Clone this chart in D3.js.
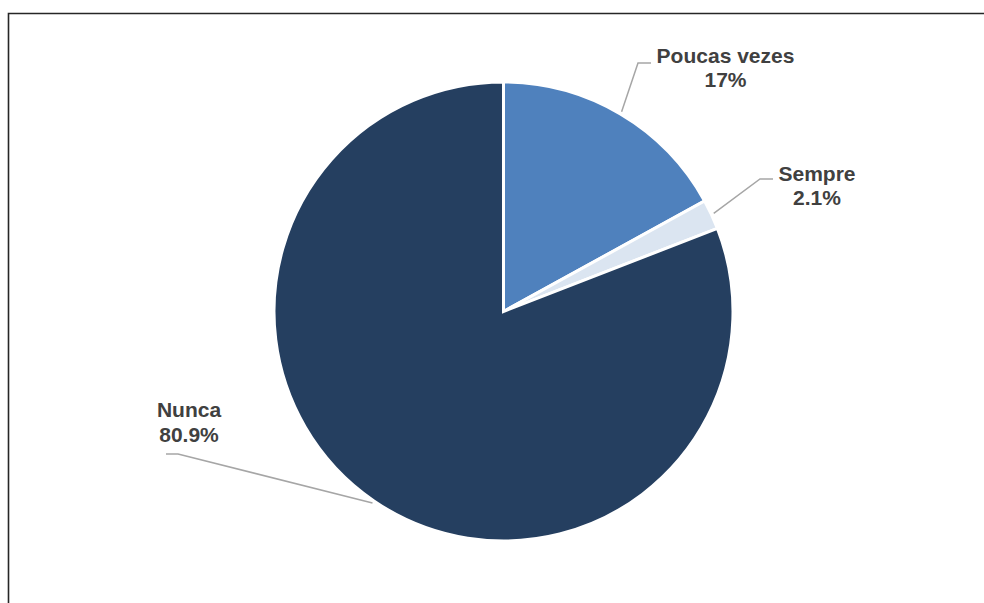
<!DOCTYPE html>
<html>
<head>
<meta charset="utf-8">
<script src="https://cdn.jsdelivr.net/npm/d3@7/dist/d3.min.js"></script>
<style>
  html, body { margin: 0; padding: 0; background: #fff; }
  svg { display: block; }
</style>
</head>
<body>
<svg id="chart" width="984" height="603"></svg>
<script>
// ---- data ----
const categories = ["Poucas vezes", "Sempre", "Nunca"];
const values = [17, 2.1, 80.9];
const valueLabels = ["17%", "2.1%", "80.9%"];
const colors = ["#4f81bd", "#dbe5f1", "#253f60"];

// ---- layout (label anchor positions, not data) ----
const labelLayout = [
  { x: 725.5, y: 62.5, elbowX: 651, side: "right" },
  { x: 817, y: 180.5, elbowX: 773, side: "right" },
  { x: 189, y: 417, elbowX: 166, side: "left" }
];

const svg = d3.select("#chart");
const W = 984, H = 603;

// frame
svg.append("path")
  .attr("d", `M8.5,${H + 5} L8.5,13.5 L${W + 5},13.5`)
  .attr("fill", "none")
  .attr("stroke", "#262626")
  .attr("stroke-width", 1.6);

const cx = 503.5, cy = 311.5, R = 229.5;
const g = svg.append("g").attr("transform", `translate(${cx},${cy})`);

const pie = d3.pie().sort(null).value(d => d)(values);
const arc = d3.arc().innerRadius(0).outerRadius(R);

g.selectAll("path.slice")
  .data(pie)
  .join("path")
  .attr("class", "slice")
  .attr("d", arc)
  .attr("fill", (d, i) => colors[i])
  .attr("stroke", "#fff")
  .attr("stroke-width", 3)
  .attr("stroke-linejoin", "miter");

// leader lines
const lineY = [63, 179, 454];
pie.forEach((d, i) => {
  const mid = (d.startAngle + d.endAngle) / 2;
  const r2 = R + 2.5;
  const px = cx + r2 * Math.sin(mid);
  const py = cy - r2 * Math.cos(mid);
  const L = labelLayout[i];
  const ly = lineY[i];
  const bendX = L.side === "right" ? L.elbowX - 13 : L.elbowX + 12;
  svg.append("polyline")
    .attr("points", `${px},${py} ${bendX},${ly} ${L.elbowX},${ly}`)
    .attr("fill", "none")
    .attr("stroke", "#a6a6a6")
    .attr("stroke-width", 1.5);
});

// labels
labelLayout.forEach((L, i) => {
  const t = svg.append("text")
    .attr("x", L.x)
    .attr("y", L.y)
    .attr("text-anchor", "middle")
    .attr("font-family", "Liberation Sans, Arial, sans-serif")
    .attr("font-weight", "bold")
    .attr("font-size", 21)
    .attr("fill", "#404040");
  t.append("tspan").attr("x", L.x).text(categories[i]);
  t.append("tspan").attr("x", L.x).attr("dy", 24.5).text(valueLabels[i]);
});
</script>
</body>
</html>
